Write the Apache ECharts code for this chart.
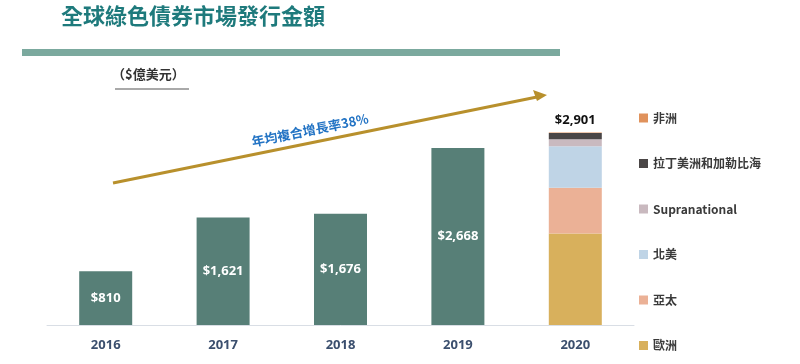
<!DOCTYPE html>
<html><head><meta charset="utf-8">
<script src="https://cdn.jsdelivr.net/npm/echarts@6/dist/echarts.min.js"></script>
<style>html,body{margin:0;padding:0;background:#fff}#c{width:800px;height:364px}</style>
</head><body><div id="c"></div>
<script>
const years = ['2016','2017','2018','2019','2020'];
const totals = [810, 1621, 1676, 2668, null];
const regionNames = ['歐洲','亞太','北美','Supranational','拉丁美洲和加勒比海','非洲'];
const region2020 = [1380, 690, 625, 105, 95, 6];
const regionColors = ['#D8B05C','#EBB196','#BFD4E6','#C9B9BF','#4A4646','#E0925C'];
const total2020 = 2901;

const fmt = v => '$' + v.toLocaleString('en-US');
const chart = echarts.init(document.getElementById('c'));
const series = [{
  name: '總額', type: 'bar', stack: 's', barWidth: 53,
  data: totals.map(v => v == null ? '-' : v),
  itemStyle: { color: '#577F77' },
  label: { show: true, position: 'inside', color: '#fff', fontWeight: 'bold', fontSize: 13,
    fontFamily: 'Open Sans, sans-serif', formatter: p => fmt(p.value) }
}];
regionNames.forEach((n, i) => {
  series.push({
    name: n, type: 'bar', stack: 's', barWidth: 53,
    data: years.map((y, j) => j === 4 ? region2020[i] : '-'),
    itemStyle: { color: regionColors[i] },
    label: i === regionNames.length - 1 ? { show: true, position: 'top', color: '#111', fontWeight: 'bold',
      fontSize: 13, distance: 6, fontFamily: 'Open Sans, sans-serif', formatter: () => fmt(total2020) } : { show: false }
  });
});
chart.setOption({
  animation: false,
  grid: { left: 47, right: 166, top: 126, bottom: 39 },
  xAxis: { type: 'category', data: years,
    axisLine: { lineStyle: { color: '#D9DEE5' } }, axisTick: { show: false },
    axisLabel: { color: '#3B4F6E', fontWeight: 'bold', fontSize: 13, margin: 14, fontFamily: 'Open Sans, sans-serif' } },
  yAxis: { type: 'value', min: 0, max: 3000, show: false, splitLine: { show: false } },
  legend: { orient: 'vertical', left: 634, top: 107, itemWidth: 9, itemHeight: 9, itemGap: 33.5,
    icon: 'rect', data: regionNames.slice().reverse(),
    textStyle: { color: '#3A3A3A', fontSize: 12, fontFamily: 'Noto Sans CJK TC', fontWeight: 'bold' } },
  series: series,
  graphic: [
    { type: 'text', left: 61, top: 5, style: { text: '全球綠色債券市場發行金額', fill: '#1E7A7C',
      font: 'bold 22px "Noto Sans CJK TC"' } },
    { type: 'rect', shape: { x: 22, y: 49, width: 538, height: 7 }, style: { fill: '#7BA99E' } },
    { type: 'text', left: 112, top: 68, style: { text: '（$億美元）', fill: '#333', font: 'bold 13px "Noto Sans CJK TC"' } },
    { type: 'line', shape: { x1: 115, y1: 89, x2: 189, y2: 89 }, style: { stroke: '#555', lineWidth: 1.2 } },
    { type: 'line', shape: { x1: 113, y1: 183, x2: 537, y2: 97 }, style: { stroke: '#B8902C', lineWidth: 3 } },
    { type: 'polygon', shape: { points: [[547, 95], [533, 90], [537, 101]] }, style: { fill: '#B8902C' } },
    { type: 'text', x: 310, y: 130, rotation: 11.5 * Math.PI / 180,
      style: { text: '年均複合增長率38%', fill: '#2273C4', font: 'bold 13px "Noto Sans CJK TC"', align: 'center', verticalAlign: 'middle' } }
  ]
});
</script></body></html>
